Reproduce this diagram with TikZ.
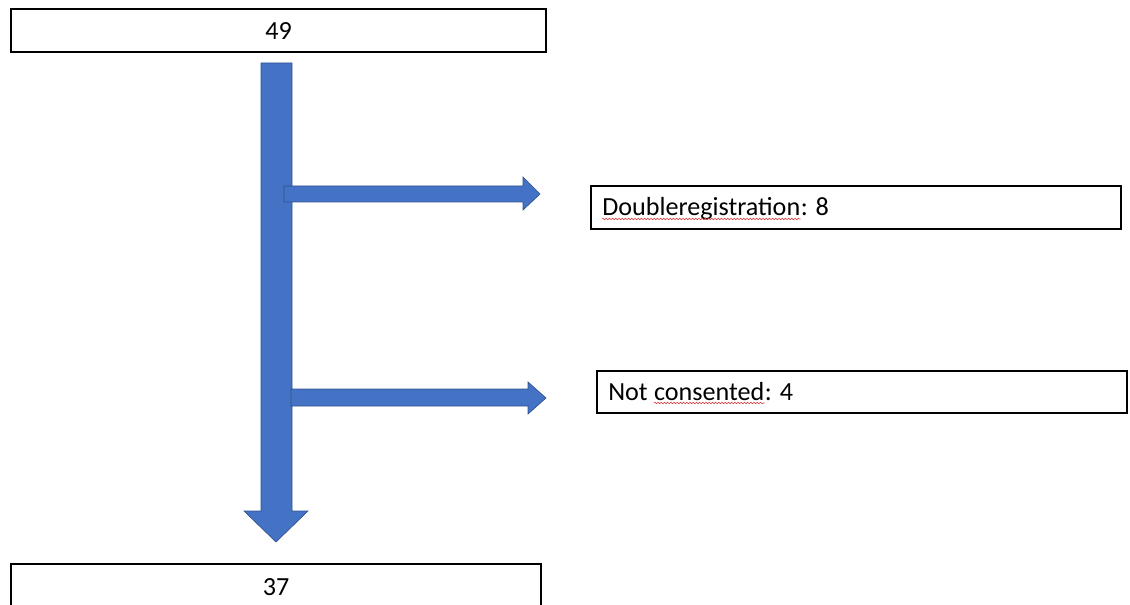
\documentclass[tikz,border=0pt]{standalone}
\usepackage{fontspec}
\setmainfont{Carlito}
\usetikzlibrary{decorations.pathmorphing}
\definecolor{officeblue}{HTML}{4472C4}
\definecolor{officeedge}{HTML}{2F528F}
\definecolor{spellred}{HTML}{D93A3A}

\begin{document}
\begin{tikzpicture}[x=0.75pt,y=-0.75pt,
  box/.style={draw=black, line width=1pt, rectangle, inner sep=0pt,
              minimum width=#1*0.75pt, minimum height=43*0.75pt},
  txt/.style={inner sep=0pt, font=\fontsize{19.6}{23}\selectfont},
  blockarrow/.style={fill=officeblue, draw=officeedge, line width=0.5pt, line join=miter},
  spell/.style={draw=spellred, line width=0.45pt, decorate,
                decoration={snake, amplitude=0.55pt, segment length=2.4pt}}]

  \useasboundingbox (0,0) rectangle (1130,605);
  \clip (0,0) rectangle (1130,605);

  % boxes
  \node[box=535] (top) at (278.5,30.5) {};
  \node[box=530] (bottom) at (276,585.5) {};
  \node[box=530] (dup) at (856,207.5) {};
  \node[box=530, minimum height=42*0.75pt] (cons) at (862,392) {};

  % main downward arrow
  \coordinate (vtip) at (276,542);
  \draw[blockarrow] (261,63) -- (292,63) -- (292,511) -- (308,511) -- (vtip)
        -- (244,511) -- (261,511) -- cycle;

  % side arrows
  \draw[blockarrow] (284,186) -- (523,186) -- (523,177) -- (540,194) -- (523,210)
        -- (523,202) -- (284,202) -- cycle;
  \draw[blockarrow] (291,389) -- (528,389) -- (528,382) -- (546,398) -- (528,414)
        -- (528,406) -- (291,406) -- cycle;

  % labels
  \node[txt, anchor=base] (t49) at (278.5,40) {49};
  \node[txt, anchor=base] (t37) at (276,595) {37};

  \node[txt, anchor=base west] (dupword) at (602,216) {Doubleregistration};
  \node[txt, anchor=base west] (dupnum) at (dupword.base east) {: 8};

  \node[txt, anchor=base west] (notword) at (608,400) {Not\ \null};
  \node[txt, anchor=base west] (consword) at (notword.base east) {consented};
  \node[txt, anchor=base west] (consnum) at (consword.base east) {: 4};

  % spelling marks
  \draw[spell] ([yshift=-3*0.75pt]dupword.base west) -- ([yshift=-3*0.75pt]dupword.base east);
  \draw[spell] ([yshift=-3*0.75pt]consword.base west) -- ([yshift=-3*0.75pt]consword.base east);
\end{tikzpicture}
\end{document}
